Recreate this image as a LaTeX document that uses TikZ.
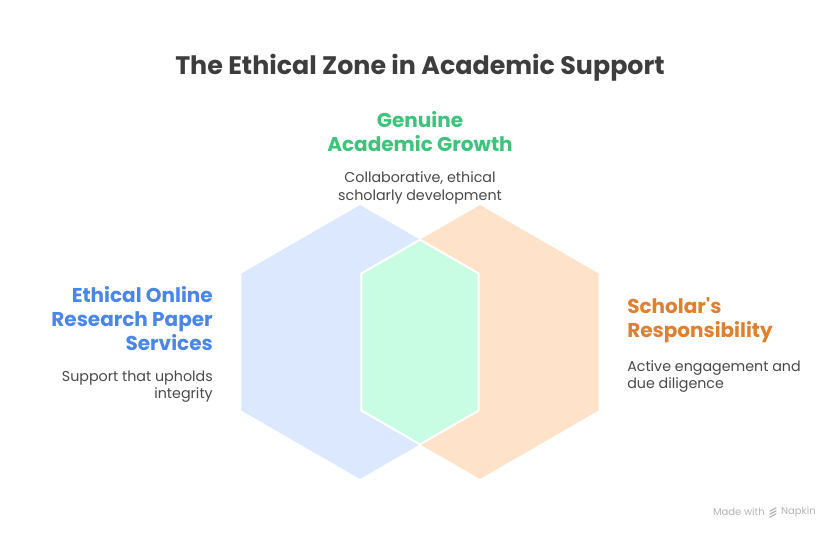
\documentclass[tikz,border=0pt]{standalone}
\usepackage{fontspec}
\setmainfont{Poppins}
\usetikzlibrary{positioning,calc}
\definecolor{HexBlue}{HTML}{DCE8FE}
\definecolor{HexOrange}{HTML}{FEE3CA}
\definecolor{HexGreen}{HTML}{C8FCE3}
\definecolor{Blue}{HTML}{4A86E8}
\definecolor{Green}{HTML}{3CC47C}
\definecolor{Orange}{HTML}{E07F2E}
\definecolor{Ink}{HTML}{484848}
\definecolor{Title}{HTML}{3D3D3D}
\definecolor{Faint}{HTML}{B4B4B4}

\begin{document}
\begin{tikzpicture}[x=0.75pt,y=-0.75pt,inner sep=0pt,
    head/.style={font=\bfseries\fontsize{15}{18}\selectfont},
    note/.style={font=\fontsize{10.7}{12.9}\selectfont,text=Ink},
    brand/.style={font=\fontsize{7.5}{9}\selectfont,text=Faint}
]
\useasboundingbox (0,0) rectangle (840,540);
% hexagon corners
\foreach \n/\cx in {b/360,o/480}
  \foreach \i in {0,...,5}
    \coordinate (\n\i) at ($(\cx,342)+({90+60*\i}:137)$);
\fill[HexBlue] (b0) -- (b1) -- (b2) -- (b3) -- (b4) -- (b5) -- cycle;
\fill[HexOrange] (o0) -- (o1) -- (o2) -- (o3) -- (o4) -- (o5) -- cycle;
% overlap
\coordinate (gtop) at (intersection of b0--b5 and o0--o1);
\coordinate (gbot) at (intersection of b3--b4 and o3--o2);
\filldraw[HexGreen,draw=white,line width=1.5pt,line join=miter]
  (gtop) -- (b5) -- (b4) -- (gbot) -- (o2) -- (o1) -- cycle;

\node[font=\bfseries\fontsize{19}{22}\selectfont,text=Title] (title) at (420,68) {The Ethical Zone in Academic Support};

\node[head,text=Green,align=center,anchor=north] (growth) at (420,111) {Genuine\\Academic Growth};
\node[note,align=center,below=15pt of growth] (growthnote) {Collaborative, ethical\\scholarly development};

\node[head,text=Blue,align=right,anchor=north east] (services) at (213,286) {Ethical Online\\Research Paper\\Services};
\node[note,align=right,below=15pt of services.south east,anchor=north east] (servicesnote) {Support that upholds\\integrity};

\node[head,text=Orange,align=left,anchor=north west] (scholar) at (627,297) {Scholar\textquotesingle s\\Responsibility};
\node[note,align=left,below=13pt of scholar.south west,anchor=north west] (scholarnote) {Active engagement and\\due diligence};

% footer mark
\node[brand,anchor=east] (napkin) at (816,512) {Napkin};
\node[brand,anchor=east] (madewith) at (765,512) {Made with};
\foreach \dy in {-3,0,3}
  \draw[Faint,line width=0.9pt,line cap=round] ($(madewith.east)+(5,\dy+2)$) -- ($(madewith.east)+(11,\dy-1)$);
\end{tikzpicture}
\end{document}
